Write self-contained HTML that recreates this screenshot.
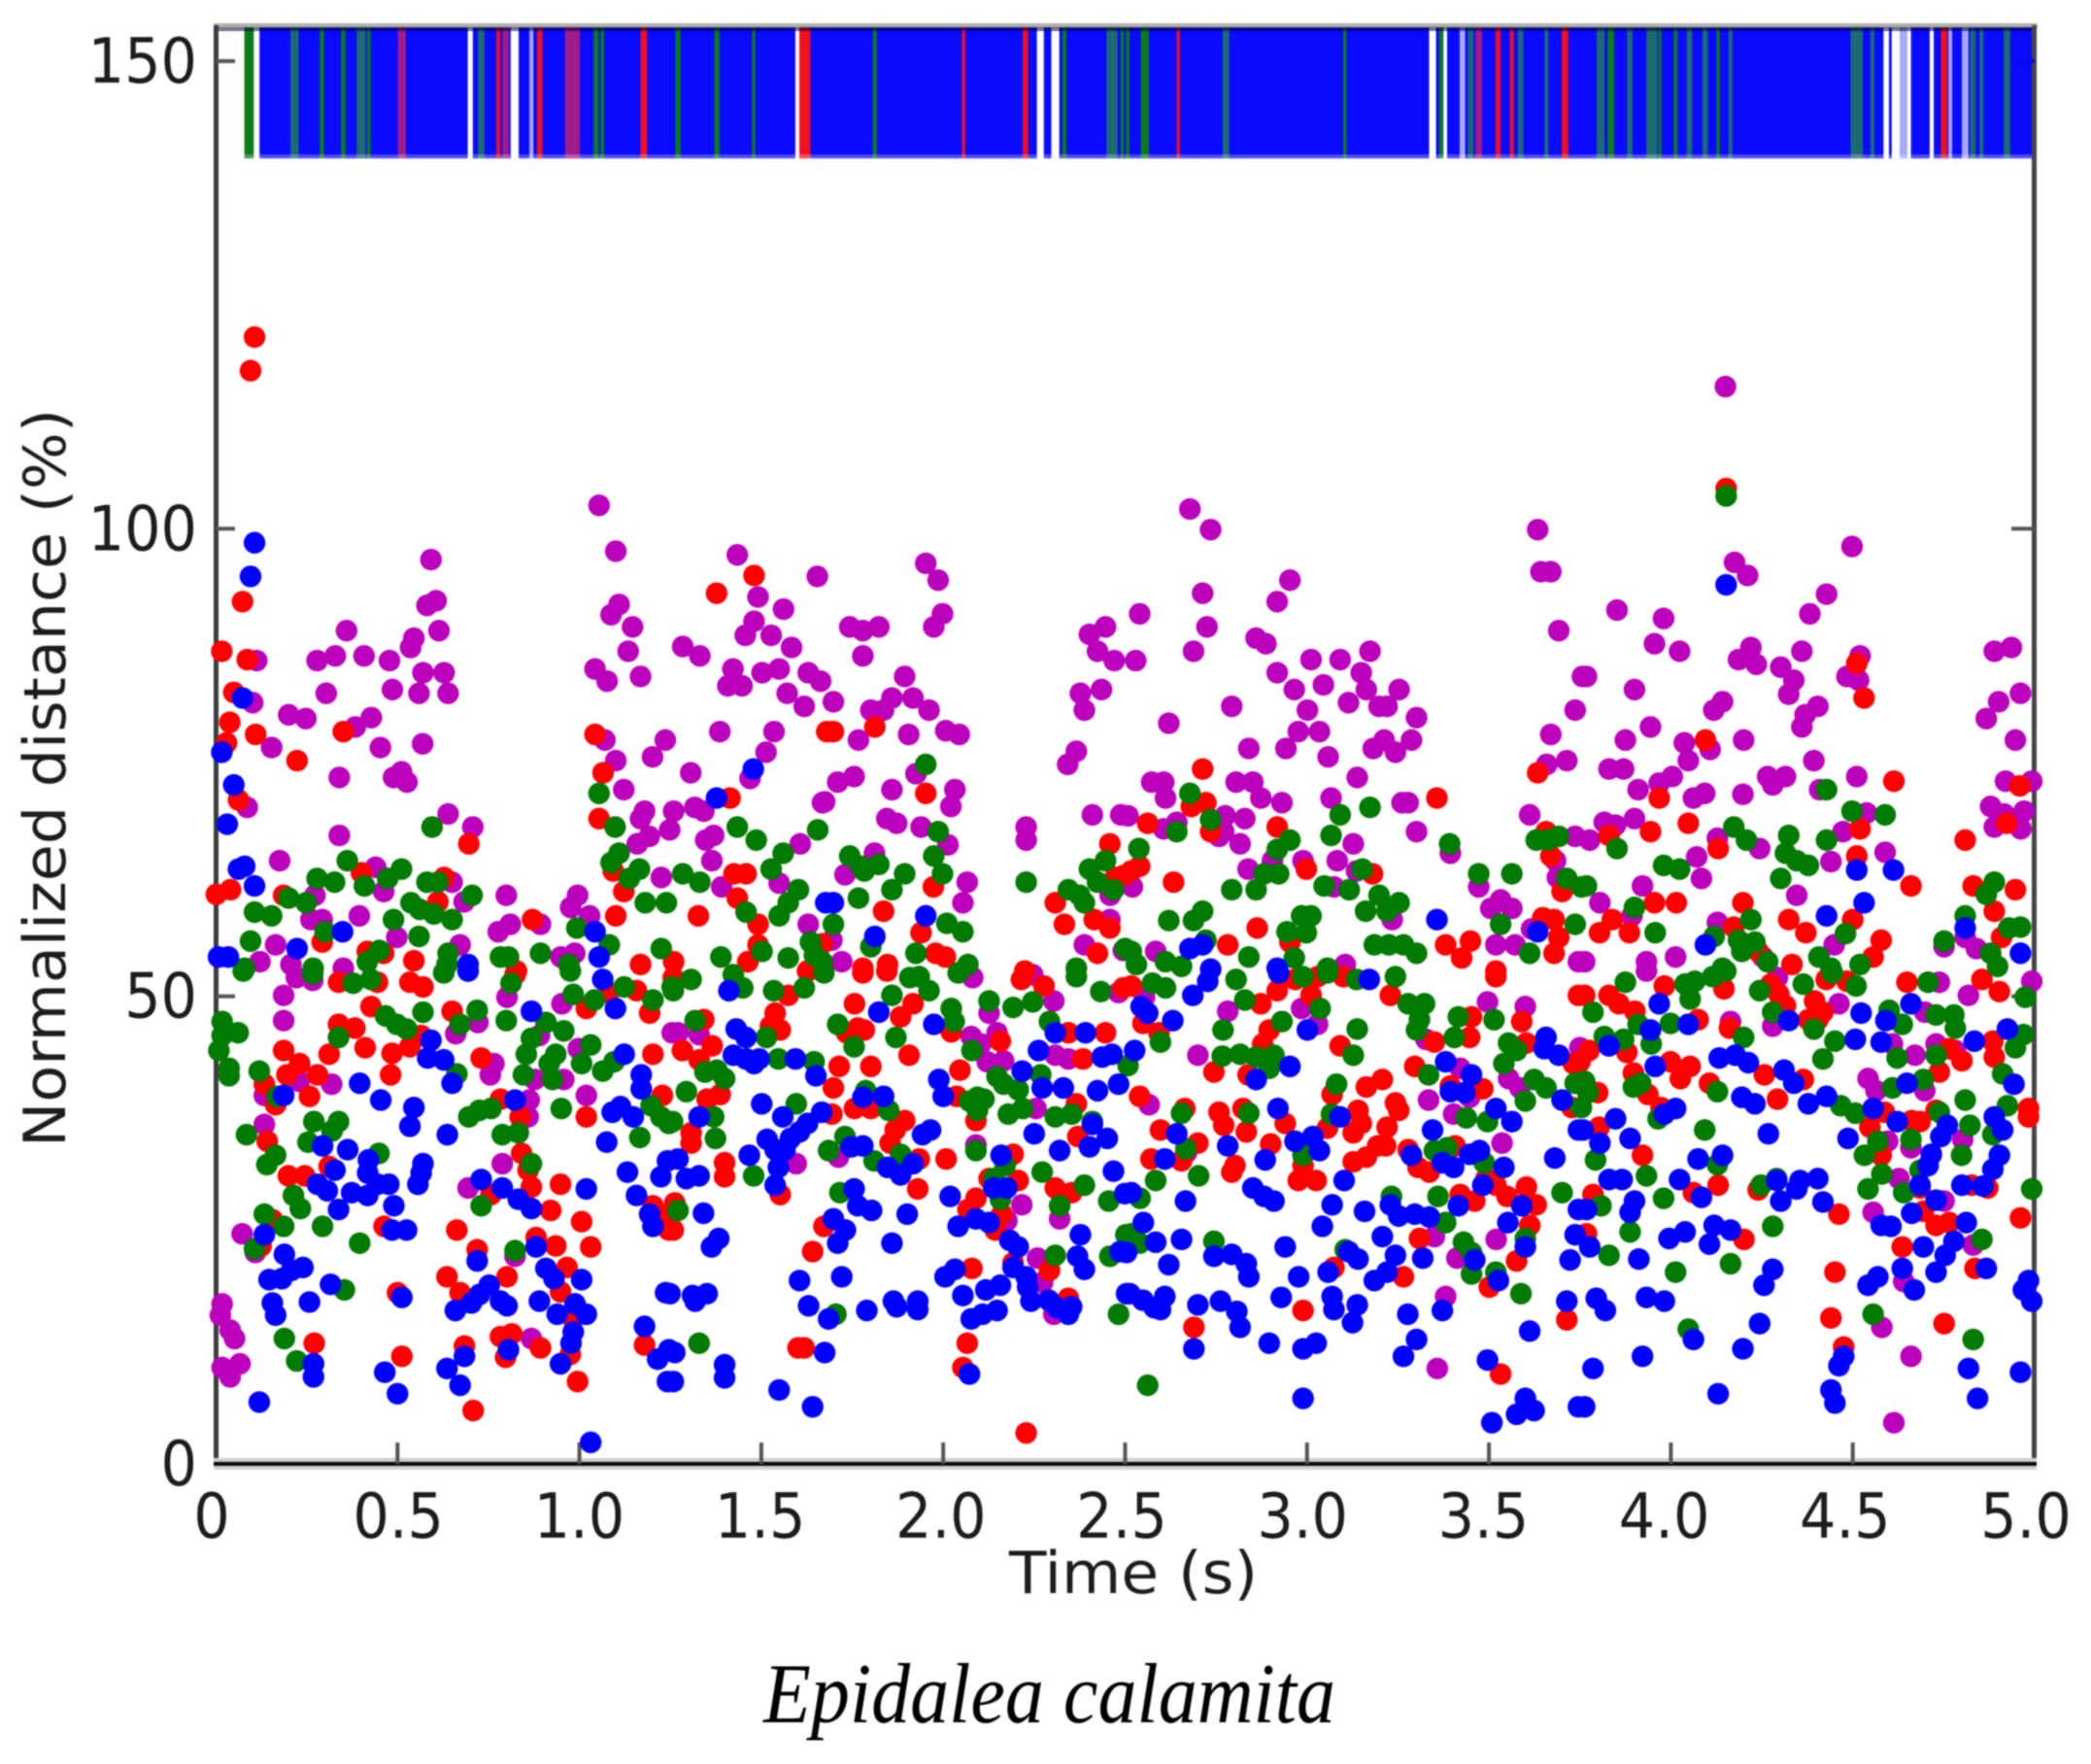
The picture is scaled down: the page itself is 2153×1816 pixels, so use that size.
<!DOCTYPE html>
<html lang="en">
<head>
<meta charset="utf-8">
<title>Epidalea calamita normalized distance over time</title>
<style>
html,body{margin:0;padding:0;background:#fff;}
#chart{display:block;width:2153px;height:1816px;filter:blur(0.8px);}
</style>
</head>
<body>
<svg id="chart" xmlns="http://www.w3.org/2000/svg" width="2153" height="1816" viewBox="0 0 2153 1816">
<rect x="0" y="0" width="2153" height="1816" fill="#fff"/>
<g id="strip"></g>
<g id="axes"></g>
<g id="points"></g>
<text x="1039" y="1640" font-family="'DejaVu Sans',sans-serif" font-size="60" fill="#1c1c1c" textLength="256" lengthAdjust="spacingAndGlyphs">Time (s)</text>
<text transform="translate(67,1181) rotate(-90)" x="0" y="0" font-family="'DejaVu Sans',sans-serif" font-size="60" fill="#1c1c1c" textLength="760" lengthAdjust="spacingAndGlyphs">Normalized distance (%)</text>
<text x="786" y="1773" font-family="'Liberation Serif',serif" font-style="italic" font-size="88" fill="#000" textLength="589" lengthAdjust="spacingAndGlyphs">Epidalea calamita</text>
</svg>
<script>
const xTicks = [0, 0.5, 1, 1.5, 2, 2.5, 3, 3.5, 4, 4.5, 5];
const xTickLabels = ['0', '0.5', '1.0', '1.5', '2.0', '2.5', '3.0', '3.5', '4.0', '4.5', '5.0'];
const yTicks = [0, 50, 100, 150];
const yTickLabels = ['0', '50', '100', '150'];

const stripGreen = [[.092,.026],[.292,.012],[.351,.012],[.421,.010],[1.046,.014],[1.063,.010],[1.271,.014],[1.378,.014],[1.479,.009],[1.812,.011],[2.333,.011],[2.492,.009],[2.507,.009],[2.554,.022],[3.104,.009],[3.369,.011],[3.835,.018],[3.970,.008],[4.013,.011],[4.130,.009]];
const stripTeal = [[.217,.022],[.400,.024],[.730,.018],[2.464,.030],[2.777,.018],[3.450,.015],[3.587,.015],[3.658,.011],[3.807,.022],[3.887,.015],[3.948,.030],[4.051,.015],[4.094,.015],[4.164,.011],[4.511,.034],[4.554,.011],[4.830,.015],[4.854,.011],[4.924,.018]];
const stripRed = [[.777,.011],[.891,.015],[1.177,.018],[1.618,.034],[2.056,.009],[2.226,.015],[2.646,.009],[3.525,.014],[3.563,.011],[3.709,.018],[4.751,.018]];
const stripPurple = [[.512,.022],[.797,.018],[.981,.041],[3.472,.018]];
const stripLight = [[.868,.011],[3.427,.015],[4.642,.030],[4.768,.010],[4.809,.018]];
const stripWhite = [[.113,.015],[.700,.014],[.822,.022],[1.599,.011],[2.267,.019],[2.308,.022],[3.345,.019],[3.380,.010],[4.592,.015],[4.618,.022],[4.655,.010],[4.717,.011]];

const purplePoints = [
[.222,52],[.267,51.7],[.187,50.1],[.187,47.4],[.801,49.9],[.952,49.2],[.721,47.2],[.660,46],[1.255,46.1],[.997,44.4],[.890,45.8],[.765,42.8],[.755,41.6],[.877,41.1],[.957,41.1],[.230,40.9],[.319,40.6],[.134,39.4],[1.019,39.4],[.862,38.9],[.859,37.1],[.134,36.3],[.788,32.1],[.694,29.5],[.073,24.6],[.109,22.6],[.823,22.2],[.018,17.1],[.013,15.9],[.040,14.3],[.052,13.4],[.067,10.7],[.018,10.3],[.040,9.3],[.868,13.4],
[1.054,102.5],[1.100,97.6],[1.434,97.2],[1.654,94.9],[.592,96.7],[.606,92.3],[.581,91.8],[1.109,91.9],[1.087,90.8],[1.491,92.7],[1.561,91.4],[.360,89.1],[.614,89.1],[1.146,89.5],[1.480,90.1],[1.456,88.6],[1.527,88.6],[.545,88.3],[.536,87.3],[1.583,87.3],[1.284,87.4],[1.331,86.4],[1.134,86.9],[.113,85.9],[.279,85.9],[.329,86.4],[.408,86.4],[.478,85.9],[.570,84.6],[.628,84.6],[1.043,85],[1.076,83.7],[1.168,84.2],[1.422,85],[1.408,83.2],[1.447,83.2],[1.502,84.6],[1.549,85],[1.629,84.6],[1.663,83.7],[.304,82.4],[.486,82.8],[.559,82.4],[.639,82.4],[.102,81.4],[1.571,82.4],[1.618,81],[.201,80.1],[.248,79.7],[.428,79.8],[.384,78.8],[1.386,78.3],[1.535,78.3],[1.236,77.4],[1.070,77.4],[.154,76.6],[.453,76.6],[.569,77],[1.513,76.1],[1.201,75.6],[1.100,75.2],[.340,73.4],[.489,73.4],[.511,74],[.526,72.9],[1.306,73.9],[1.469,73.3],[1.122,72.1],[.087,70.2],[1.179,69.8],[1.259,69.8],[1.317,70.2],[1.342,69.8],[.639,69.5],[1.668,70.7],[.707,68.1],[.340,67.2],[1.168,69],[1.192,67.1],[1.159,66.3],[1.248,67.8],[1.369,67.2],[1.347,66.7],[1.607,66.3],[1.364,64.5],[.176,64.5],[.440,63.8],[.650,62.2],[1.225,62.7],[1.549,62.1],[1.391,61.7],[.273,60.8],[.462,61.2],[.683,60.1],[.799,60.8],[.995,60.8],[.976,59.5],[1.028,58.6],[.395,58.6],[.262,58.2],[.293,58.2],[.810,57.7],[.777,56.9],[.893,57.7],[1.629,57.7],[.165,55.5],[.498,56.3],[.672,55.5],[.949,54.2],[.987,54.6],[.122,53.7],[.207,53.4],[.351,53],
[1.952,96.3],[1.986,94.5],[1.998,90.9],[1.974,89.5],[1.743,89.5],[1.779,89.1],[1.823,89.5],[1.779,86.4],[2.446,89.5],[2.402,88.7],[2.424,86.9],[2.470,85.9],[1.894,84.2],[1.859,81.9],[1.917,81.9],[1.961,80.6],[1.801,80.6],[1.836,80.6],[1.698,81.5],[2.435,82.8],[2.377,82.4],[2.388,80.6],[1.905,78],[2.007,78.4],[2.044,78],[1.767,77.4],[2.366,76.2],[2.342,74.8],[1.925,73.8],[1.755,73.5],[1.710,72.9],[1.859,72.1],[2.032,72.1],[2.021,70.3],[1.674,70.8],[1.845,69],[1.872,68.5],[1.939,68.1],[2.410,69.4],[2.488,69.4],[2.228,68.1],[2.228,66.7],[2.013,66.2],[1.811,65.3],[1.730,63],[2.066,62.2],[2.054,60],[2.458,58.2],[2.459,60.8],[2.388,55.5],[2.495,54.9],[1.721,53.7],[1.694,56],
[2.246,52.3],[2.081,52],[2.304,49.5],[2.126,48.2],[2.482,50.4],[1.271,46.1],[1.329,45.9],[2.077,45.7],[2.103,44.9],[2.148,46.1],[2.308,43.7],[2.344,43.3],[2.121,43],[2.166,43.1],[2.255,38],[2.090,34.1],[1.596,32.1],[2.216,27.7],[2.320,26.2],[2.175,26],[2.259,22],[2.273,19.4],[2.304,16],[1.712,32.8],
[2.678,102.1],[2.735,99.9],[2.953,94.5],[2.713,93.1],[2.918,92.2],[2.540,90.9],[2.725,89.5],[2.860,88.3],[2.887,87.7],[2.688,86.9],[2.529,85.9],[3.011,86],[3.091,86],[3.173,86.9],[2.918,84.6],[3.149,84.6],[2.965,82.8],[3.045,83.3],[3.163,82.8],[3.253,82.8],[2.793,81],[3.001,80.6],[3.114,81.4],[3.198,81],[3.220,81],[3.301,79.8],[2.620,79.2],[2.976,78.3],[3.034,78.3],[3.212,77.4],[3.287,77.4],[3.182,76.5],[3.243,76.1],[2.840,76.5],[2.942,76.5],[3.058,75.6],[3.138,73.4],[2.573,72.9],[2.606,72.9],[2.611,71.2],[2.805,72.9],[2.851,72.9],[2.873,71.2],[2.931,70.7],[3.066,71.2],[3.261,70.7],[3.278,70.7],[3.301,67.6],[2.508,69.3],[2.775,69.3],[2.829,69],[2.606,67.9],[2.642,68.6],[2.771,67.6],[2.758,67.1],[2.816,66.3],[3.127,66.3],[3.394,65.3],[2.989,64.5],[3.083,64.5],[2.905,64.5],[2.838,63.6],[2.520,61.7],[3.074,61.7],[3.136,63.4],[3.472,61.7],[3.532,60.3],[3.505,59.4],[3.563,59.4],[3.634,99.9],[3.643,95.4],[3.670,95.4],[3.692,89.1],[3.757,84.2],[3.737,80.6],[3.670,78],[3.714,75.2],[3.659,74.8],[3.612,69.4],[3.737,67.1],[3.683,64.5],[3.688,62.7],[3.234,58.2],[3.519,55.5],[3.572,55.5],[3.617,57.2],[2.584,54.8],[3.105,53.4],[3.746,53.7],
[2.553,49.9],[2.782,48.4],[2.985,48.7],[3.029,47],[3.496,49.4],[3.600,48.9],[2.700,43.7],[3.421,42.3],[3.554,41.2],[3.585,40.2],[2.566,38.4],[3.334,38.9],[3.403,37.4],[3.447,39.2],[3.350,24.3],[3.520,24],[3.412,22],[3.381,17.9],[3.358,10.2],[3.536,34.3],[3.750,44.5],[3.327,45.4],[2.669,33.3],
[4.498,98.1],[4.175,96.4],[4.211,95],[4.428,93],[4.382,90.9],[3.852,91.3],[3.980,90.4],[3.955,87.7],[4.024,86.9],[4.220,87.3],[4.186,86],[4.235,85.5],[4.302,85.2],[4.338,83.8],[4.324,82.3],[4.360,86.9],[4.520,86.4],[4.484,84.2],[4.516,83.8],[3.768,84.2],[3.900,82.8],[4.142,81.5],[4.118,80.6],[4.404,81],[4.369,80.1],[4.360,78.8],[3.944,78.8],[3.875,77.4],[4.037,77.1],[4.108,76.4],[4.200,77.4],[4.048,75.2],[4.393,75.2],[3.830,74.3],[3.870,74.3],[4.004,73.5],[3.968,72.8],[3.910,72.1],[4.511,73.5],[4.266,73.5],[4.315,73.5],[4.280,72.6],[4.409,72.1],[4.093,71.7],[4.062,71.2],[4.198,71.6],[4.889,86.9],[4.936,87.3],[4.961,82.4],[4.901,81.5],[4.867,79.7],[4.947,77.4],[4.920,73],[4.992,73],[4.879,70.3],[4.916,69.5],[4.971,69.8],[4.889,68.1],[4.962,67.9],[3.817,68.6],[3.900,69],[3.777,66.7],[3.848,68.3],[4.538,69.6],[4.473,67.6],[4.128,66.9],[4.244,65.8],[4.071,64.9],[4.440,64.4],[4.589,65.4],[4.084,62.6],[3.922,61.8],[4.346,60.8],[3.805,60],[3.893,58.6],[4.128,57.9],[4.449,55.5],[4.751,55.3],[4.840,55.1],[3.933,53.7],[4.013,54.2],[4.253,54.2],[3.763,53.7],[4.809,56.3],[4.15,115.2],
[4.293,52],[4.818,50.1],[4.738,51.5],[4.992,51.6],[4.462,49.2],[4.698,48.3],[4.164,47.3],[4.280,46.8],[4.671,43.7],[4.609,44.9],[4.729,44.9],[4.782,44.2],[4.542,41.2],[4.564,39.9],[4.698,39.9],[4.751,28.1],[4.596,34.5],[4.660,33.8],[4.802,34.7],[4.627,30.5],[4.556,26.9],[4.831,23.4],[4.640,19.5],[4.580,14.6],[4.660,11.5],[4.613,4.4],[3.933,52.7]
];

const redPoints = [
[.107,120.5],[.096,116.9],
[.338,51.5],[.445,51.5],[.534,51.5],[.570,51],[.823,52.3],[.427,48.9],[.650,48.4],[.338,47],[.383,46.6],[.411,44.5],[.312,43.8],[.187,44.2],[.231,42.8],[.196,41.6],[.134,40.6],[.280,41.6],[.258,39.3],[.165,38.4],[.485,43.9],[.534,44.6],[.565,45.8],[.481,41.6],[.730,43.4],[1.202,43.8],[1.157,50.6],[1.081,50.4],[1.193,48.2],[1.019,48.7],[1.228,39.4],[1.019,37.1],[.837,37.1],[.783,39],[.142,34.5],[.841,33.2],[.859,31.4],[.868,29.6],[.948,29.9],[.921,27.1],[.312,31.8],[.200,30.8],[.245,30.8],[.757,28.8],[1.006,25.9],[.663,25],[.463,25.4],[.156,26.1],[.125,23.3],[.881,24.2],[.935,23.3],[1.031,23.2],[.719,22.9],[.966,21],[.636,20],[.801,20],[.672,18.3],[.948,18.4],[.500,18.3],[1.246,26.7],[1.246,25],[1.202,27.6],[.271,12.9],[1.179,12.7],[.512,11.5],[.684,12.6],[.783,13.6],[.814,13.9],[.797,11.4],[.893,12.4],[.975,11.7],[.995,8.8],[.708,5.7],[.983,15.5],
[.074,92.2],[.017,86.9],[.087,86],[.050,82.5],[.039,79.3],[.110,78],[.030,77.1],[.224,75.2],[.351,78.3],[.063,71],[.002,60.9],[.041,61.4],[.187,60.8],[.401,63.2],[.628,62.7],[.696,66.3],[.611,60.1],[.293,55.8],[.417,54.8],[.462,54.6],[.545,53.8],[.871,58.2],[1.100,58.6],[1.168,53.4],[1.259,53.7],[1.327,58.6],[1.480,95],[1.377,93.1],[1.043,78],[1.065,73.9],[1.414,71.2],[1.054,69],[1.093,63.4],[1.122,61.2],[1.425,63.1],[1.458,63.1],[1.434,60.5],[1.491,57.7],[1.491,55.5],[1.463,53.7],[.827,52.7],[1.680,78.3],
[1.698,78.3],[1.812,78.8],[1.952,71.7],[1.973,61.7],[1.836,59.1],[2.458,66.3],[2.308,60],[2.333,57.7],[2.415,58.2],[2.458,57.3],[2.473,62.7],[2.495,62.9],[1.939,56.8],[2.424,54.6],[1.979,54.6],[2.006,54.2],[1.779,53],[1.847,53.4],[1.667,55.6],[2.224,52.7],
[1.258,52],[1.574,50.1],[1.538,48.2],[1.552,46.4],[1.525,46.8],[1.627,52.7],[1.779,52.5],[1.845,52.7],[1.756,49.2],[1.917,49.2],[1.883,47.8],[1.342,47.5],[1.365,44.7],[1.283,44.2],[1.329,43.2],[1.765,46.6],[1.783,46.4],[1.734,46.1],[1.906,43.7],[2.215,51.8],[2.277,51.1],[2.495,50.9],[2.022,46.2],[2.157,45.2],[2.046,42.1],[2.344,46.1],[2.446,46.1],[2.384,43.3],[1.714,42.5],[1.801,42.5],[1.698,40.2],[1.351,39],[1.387,39.5],[1.694,37.4],[1.756,38],[1.801,38],[2.037,39.3],[2.366,38.5],[2.090,36.7],[1.894,36.7],[1.868,35.7],[1.854,34.3],[1.307,35.4],[1.307,34.3],[2.370,35],[1.934,32.6],[2.008,32.6],[2.192,33.1],[1.399,32.2],[1.399,30.7],[1.262,27.9],[1.258,25],[2.206,30.3],[2.126,30.5],[1.930,29.4],[1.552,28.8],[2.090,28.4],[2.161,26.7],[2.068,27.2],[2.308,29.5],[2.353,29],[1.672,25.4],[2.143,25],[1.641,22.7],[2.079,20.9],[2.192,21.5],[2.292,20.7],[2.344,17.7],[1.618,12.4],[1.601,12.4],[2.066,12.9],[2.054,10.3],[2.228,3.3],
[2.713,74.3],[3.357,71.2],[2.562,68.5],[2.682,70.3],[2.722,70.7],[2.735,67.6],[2.918,68.1],[2.540,63.9],[2.517,63.4],[2.633,62.2],[2.998,63.6],[3.180,63.1],[3.634,73.9],[3.670,65],[3.701,61.2],[3.657,67.6],[3.648,58.4],[3.679,58.2],[3.692,56.3],[3.679,54.6],[2.863,57.3],[2.782,55.5],[2.953,55.8],[3.381,55.5],[3.449,55.9],[3.425,54.1],[3.519,52.7],
[2.517,51.1],[2.918,50.6],[3.011,50.1],[2.873,49.2],[2.967,51.8],[3.029,52.1],[3.100,52.1],[3.229,50.1],[3.519,52.1],[3.746,50.1],[3.452,47.8],[3.590,47.3],[2.549,47.1],[2.593,46.1],[2.896,46.4],[2.878,44.9],[3.447,45.6],[3.350,45.1],[3.603,45],[3.091,44.7],[3.296,42.5],[2.744,41.9],[2.838,41.6],[3.483,40.1],[3.394,40.4],[3.207,41.1],[3.163,40.3],[3.069,39.5],[2.540,39.3],[3.243,38.6],[3.252,37.8],[3.140,37.8],[2.664,38],[2.758,37.6],[2.824,38],[2.771,36.2],[2.597,35.7],[2.833,35.5],[2.940,36.4],[3.056,35.9],[3.149,36.4],[3.127,35.4],[3.220,36],[2.700,34.3],[2.900,34.2],[3.194,34],[3.216,34],[3.278,33.6],[2.571,32.6],[2.655,32.4],[3.163,32.8],[3.127,32.3],[3.407,34],[2.802,31.9],[2.793,31.2],[2.989,31.9],[2.976,30.3],[3.025,30.3],[3.305,31.7],[3.336,31.2],[3.492,30.5],[3.519,29.8],[3.550,28.6],[3.603,29.6],[3.630,27.7],[3.461,28.1],[3.421,28.8],[3.612,25.5],[3.309,24.1],[3.074,21],[3.576,21.7],[3.265,20],[3.501,18.9],[2.989,16.4],[2.689,14.6],[3.714,15.4],[3.532,9.6],[3.750,43],[3.732,42.8],[3.728,38.1],
[4.152,104.3],[4.511,85.6],[4.531,81.9],[4.095,77.4],[4.613,73],[4.959,72.5],[3.968,71.2],[4.923,68.5],[4.048,68.5],[3.830,67.2],[3.944,67.6],[4.809,66.7],[4.130,65.8],[4.520,67.9],[4.511,65],[4.660,61.8],[4.831,61.8],[4.947,61.4],[4.198,60],[3.955,60],[4.015,60],[3.839,58.2],[3.804,56.8],[3.886,56.8],[4.889,59.1],[4.324,58.2],[4.371,56.8],[4.500,58.2],[4.173,57.4],[4.578,56],[4.909,56.3],[4.556,54.2],[4.333,53.4],[4.240,54.8],
[3.982,51.1],[3.830,50.1],[3.857,49.2],[3.901,48.4],[3.763,50.1],[4.146,50.8],[4.075,47.5],[4.161,46.6],[4.275,51.3],[4.297,50.2],[4.315,49],[4.427,51.8],[4.395,49.5],[4.418,48.3],[4.404,47.5],[4.378,47.5],[4.484,51.6],[4.649,51.5],[4.855,51.8],[4.903,50.5],[3.775,44.2],[3.879,44],[3.999,43],[4.053,42.5],[4.026,41.2],[3.897,41.8],[3.937,39.5],[4.106,40.7],[3.799,39.7],[4.257,41.6],[4.364,41.1],[4.293,39],[4.587,37.6],[4.685,36.6],[4.765,44.4],[4.800,43.1],[4.738,41.9],[4.885,45.2],[4.889,43.5],[4.983,38],[4.983,37.1],[3.973,38.1],[4.547,36],[4.662,36.7],[4.729,37.8],[3.803,36],[3.922,33],[4.578,33],[4.062,29],[4.130,29.8],[4.240,29.3],[4.462,26.7],[4.729,25.5],[4.765,25.8],[3.786,28.8],[4.961,26.3],[4.827,29.8],[4.871,29.5],[4.201,24],[3.768,24.6],[4.636,23.2],[4.836,20.9],[4.451,20.5],[4.440,15.6],[4.751,15],[4.475,12.5],[4.694,27],[4.685,29.5]
];

const greenPoints = [
[.076,52.7],[.267,52.4],[.378,51.4],[.427,51.8],[.627,52.5],[.975,52.7],[.812,51.4],[.983,50.2],[1.041,49.6],[1.123,51],[1.202,49.6],[1.255,51],[.570,48.3],[.467,47.9],[.498,47],[.525,46.5],[.719,48.5],[.672,47],[.799,47.4],[.018,47.3],[.018,45.8],[.062,46.1],[.009,44.2],[.338,45.6],[.908,47.2],[.957,46.3],[.868,45.5],[.854,43.8],[.935,43.8],[1.031,44.8],[1.006,42.8],[.917,42.8],[.926,41.1],[.846,41.6],[1.064,42],[1.095,43],[.037,42.3],[.037,41.5],[.120,42],[.663,41.7],[.169,39.3],[.950,38],[1.197,38.3],[1.224,37.1],[1.246,36.4],[1.166,34.9],[.757,38],[.725,37.8],[.696,37.1],[.788,35.2],[.832,35.4],[.085,35.2],[.270,36.6],[.338,36.6],[.320,35.6],[.254,34.4],[.449,33.2],[.165,33],[.141,32],[.868,32.1],[.214,28.7],[.233,27.3],[.134,26.7],[.187,25.4],[.294,25.4],[.396,23.6],[.107,23],[.823,22.8],[.730,27.6],[.354,18.6],[.189,13.4],[.223,11],
[.595,68.1],[.362,64.5],[.279,62.6],[.327,62.2],[.409,61.8],[.473,62.6],[.511,63.6],[.581,62.2],[.611,62.2],[.705,60.8],[.201,60.5],[.249,60],[.107,59],[.154,58.6],[.537,60],[.561,59.3],[.600,58.8],[.650,58.2],[.489,58.2],[.301,56.9],[.096,55.9],[.559,56.4],[.993,57.3],[1.082,55.5],[.450,54.9],[.417,53.7],[.639,54.6],[.636,53.4],[.783,54.2],[.805,54.2],[.893,54.6],[.971,53.4],[1.225,55.1],[1.054,71.7],[1.098,68.1],[1.109,65.3],[1.087,64.3],[1.165,63.6],[1.137,62.6],[1.284,63.1],[1.331,62.2],[1.181,60],[1.239,60],[1.434,68.1],[1.486,66.7],[1.560,65.3],[1.527,63.6],[1.458,59],[1.549,58.6],[1.574,60],[1.602,61.4],[1.655,67.8],[1.389,54.2],[1.502,54.8],[1.574,54.1],[1.635,55.8],[1.646,54.4],[.268,53],[.080,53],
[1.986,67.6],[1.952,74.8],[1.974,65],[1.998,63.1],[1.894,63.1],[1.859,61.4],[1.743,65],[1.774,63.9],[1.823,64.1],[1.783,63.4],[1.767,60.5],[1.698,57.7],[1.801,55.3],[2.010,57.8],[2.054,56.9],[1.925,54.6],[2.228,62.2],[2.446,64.5],[2.402,63.6],[2.424,62.2],[2.468,61.4],[2.344,61.4],[2.375,60.8],[2.388,60],[2.068,53.4],[2.366,53],[2.500,55.1],[1.667,53.7],
[1.258,50.6],[1.307,51.8],[1.449,50.9],[1.423,52.3],[1.534,50.6],[1.618,50.9],[1.672,52.5],[1.908,52],[1.934,52.1],[1.961,50.6],[1.859,50.1],[2.041,52.5],[2.126,49.5],[2.192,48.8],[2.246,49.4],[2.366,52.1],[2.433,50.5],[2.022,48.7],[2.030,47.3],[1.318,47.4],[1.514,45.6],[1.710,47],[1.870,45.6],[1.755,44.6],[2.079,44.2],[2.292,47.3],[1.547,43.3],[1.645,43],[1.345,41.9],[1.399,41.2],[1.378,42.1],[1.294,39.8],[1.596,38.5],[1.787,39.9],[1.850,37.8],[2.268,41.6],[2.148,41.4],[2.166,40.6],[2.206,40],[2.094,39.2],[2.072,38.8],[2.112,39],[2.094,37.8],[2.179,37.4],[2.219,38],[2.308,37.1],[2.353,37.4],[1.256,36.6],[1.369,37.1],[1.374,34.8],[2.410,36.6],[1.730,35],[1.685,33.5],[1.810,32.4],[1.883,33.1],[2.090,33.5],[1.479,30.8],[2.170,31.9],[2.272,31.2],[2.388,29.8],[2.139,30.5],[1.716,29],[1.271,27.1],[2.157,28.3],[2.320,27.6],[2.455,28.1],[2.502,24.5],[2.308,22.3],[2.458,22.2],[1.705,16],[2.482,16],[1.329,12.9],
[2.678,71.7],[2.735,68.9],[2.642,67.6],[2.538,65.8],[3.173,70.2],[3.091,69.4],[3.066,67.2],[2.953,66.7],[2.918,65.7],[3.392,66.3],[3.630,66.7],[3.661,66.7],[3.692,67.1],[3.472,63.1],[3.563,63.1],[3.152,63.6],[2.882,63.1],[2.922,63.1],[2.793,61.4],[2.860,61.4],[3.047,61.8],[3.116,61.4],[3.714,62.6],[3.754,61.7],[3.198,60.8],[3.253,60],[2.620,58.1],[2.713,59.1],[2.688,58.1],[3.161,59.1],[3.220,59.1],[2.985,58.6],[3.011,58.6],[2.945,56.9],[2.998,56.8],[3.532,57.7],[3.737,57.7],[2.517,54.8],[3.185,55.5],[3.225,55.5],[3.265,55.5],[3.301,54.6],[2.840,54.2],[3.612,54.6],[2.965,54.1],[2.611,53.7],[2.722,56],[2.531,53.4],[2.655,53.2],[3.056,53],
[2.575,51.4],[2.611,50.9],[2.805,51.8],[2.989,52.1],[3.056,52.5],[3.136,51.8],[3.243,52.1],[2.829,49.6],[3.036,48.7],[2.931,47.3],[2.769,46.4],[3.138,46.5],[3.278,49.2],[3.323,49.2],[3.309,47.5],[3.301,46.4],[3.416,47.8],[3.514,47.5],[3.405,45.6],[3.554,45],[3.576,44.2],[2.597,45.1],[3.127,43.7],[2.767,43.6],[2.816,43.8],[2.860,43.5],[2.909,43.7],[2.896,42.3],[2.508,42.6],[3.541,42.8],[3.334,41.6],[3.624,41.1],[3.657,40.2],[3.737,40.7],[3.600,38.8],[3.754,38.1],[3.081,40.6],[3.067,37.4],[2.655,37.5],[2.840,37.5],[3.438,37],[3.496,36.6],[2.667,33.7],[2.702,30.8],[2.584,30.3],[3.350,33.5],[3.385,33.8],[3.487,32.2],[2.541,28.4],[3.232,28.6],[3.360,28.6],[3.381,25.8],[2.517,24.6],[2.540,23.6],[2.744,23.8],[3.430,23.7],[3.452,22.6],[3.600,24.1],[3.105,22.9],[3.452,20.3],[3.519,20.5],[3.588,18.2],[3.701,29],[2.562,8.4],[2.989,33],
[4.152,103.5],[4.428,72.1],[4.498,69.8],[4.589,69.4],[3.852,65.8],[4.173,68.1],[4.208,66.7],[4.324,67.2],[4.428,66.7],[4.315,65.3],[4.346,64.5],[4.378,64],[3.980,64],[4.024,63.6],[4.302,62.6],[4.889,62.2],[4.867,60.9],[3.768,61.8],[3.900,59.5],[4.809,58.6],[4.220,58.2],[3.957,56.8],[4.929,57.3],[4.961,57.4],[4.119,56.4],[4.186,56],[4.231,55.8],[4.480,56.7],[4.751,55.9],[4.195,54.8],[4.266,53.7],[4.407,54.2],[4.520,53.4],[4.879,54.6],[4.898,53.2],[4.440,53],[4.142,53],
[3.875,51.5],[4.039,51.3],[4.066,51.6],[4.053,49.7],[4.115,52.1],[4.151,52.7],[4.244,50.6],[4.364,51.3],[4.444,52.5],[4.509,51.1],[4.707,51.5],[4.974,49.9],[3.786,48.3],[3.910,47],[3.999,47.1],[4.280,48.3],[4.393,46.5],[4.636,47],[4.600,48.5],[4.729,48],[4.778,48],[4.782,46.6],[3.817,45.7],[3.870,45.4],[3.946,44.9],[4.200,45.6],[4.451,45.2],[4.418,43.3],[4.622,43.4],[4.729,43.7],[4.947,44.5],[4.969,45.9],[4.912,41.7],[4.694,41.1],[4.609,40.2],[3.917,40.7],[3.897,40.3],[4.128,39.8],[3.763,40.9],[3.772,39.7],[4.809,38.9],[4.467,38.3],[4.507,37.5],[4.738,37.6],[4.925,38.3],[3.965,36.9],[4.093,35.7],[4.822,36.2],[4.885,35.2],[4.569,34.5],[4.660,34.7],[4.532,33],[4.799,33],[3.793,32.5],[3.933,30.8],[4.075,32.6],[4.128,32],[4.580,31],[4.542,29.4],[4.640,29],[4.291,30.5],[4.248,29.8],[4.992,29.4],[4.685,31.4],[3.808,27.6],[3.980,28.4],[3.888,24.8],[4.280,25.4],[4.855,24],[3.830,22.3],[4.164,21.4],[4.013,20.5],[4.048,14.4],[4.556,16],[4.831,13.3]
];

const bluePoints = [
[.694,52.7],[1.064,51.8],[1.099,48.7],[.868,48.4],[.592,45.3],[.583,43.4],[.627,43.2],[.650,40.7],[.396,40.7],[.187,39.4],[.454,38.9],[.823,38.9],[.545,38.1],[.534,36.1],[.637,35.2],[1.123,43.8],[1.170,41.6],[1.170,40.1],[1.090,37.6],[1.113,38.2],[1.148,37.1],[1.075,34.4],[.294,34],[.363,33.6],[.420,32.5],[.570,32.1],[1.242,32.4],[.328,31.4],[.418,31.1],[.565,31.1],[.556,29.9],[1.132,31.2],[1.224,30.7],[.280,29.9],[.307,29.2],[.374,29],[.418,28.7],[.445,29.9],[.476,29.9],[.338,27.2],[.490,27.6],[.730,30.4],[.788,29.5],[1.019,29.4],[.832,28.3],[.868,27.3],[1.157,28.7],[1.193,26.7],[1.202,25.4],[.485,25],[.525,25],[.134,24.5],[.881,23.2],[.189,22.4],[.719,21.7],[.240,21],[.209,20.7],[.147,19.7],[.182,19.8],[.908,20.9],[.930,19.8],[1.006,19.7],[.316,19.2],[.752,19.1],[.725,18.1],[1.237,18.3],[.156,17.2],[.258,17.3],[.512,17.8],[.890,17.4],[.988,17.1],[.783,17.4],[.165,15.9],[.659,16.4],[.703,17.2],[.801,16.9],[.939,16],[1.019,16],[1.179,14.7],[.983,14.1],[.977,12.9],[.805,12.2],[.684,11.5],[.948,10.7],[1.215,11.2],[1.246,12.2],[.269,10.7],[.269,9.3],[.465,9.8],[.636,10.2],[.672,8.4],[.500,7.5],[1.242,8.8],[.120,6.6],[1.031,2.3],
[.107,98.5],[.096,94.9],[.074,81.9],[.017,76.1],[.050,72.6],[.032,68.4],[.080,63.9],[.063,63.6],[.107,61.8],[.349,56.9],[.224,55.1],[.008,54.2],[.035,54.2],[1.043,56.9],[1.054,54.2],[.694,53.4],[1.377,71.2],[1.478,74.3],[1.677,60],[1.698,60],[1.952,58.6],[1.812,56.4],
[1.411,50.6],[1.823,48.3],[1.974,47],[1.431,46.5],[1.458,45.6],[2.308,46.1],[2.391,46.1],[1.423,43.7],[1.458,43.3],[1.480,42.8],[1.494,43.3],[1.594,43.3],[1.650,41.5],[2.262,44.2],[2.437,43.5],[2.464,43.8],[2.217,42],[1.988,41.1],[2,39.3],[2.272,40.2],[2.330,40.2],[2.424,39.9],[2.482,40.6],[1.779,39.2],[1.836,39.3],[1.501,38.5],[1.559,37.1],[1.666,37.6],[1.329,37.1],[1.627,36.4],[1.605,35.5],[1.943,35.2],[1.965,35.7],[2.250,35.3],[2.410,36.3],[1.516,34.7],[1.580,34.8],[1.538,33.6],[1.565,33.6],[1.467,33],[2.451,34.8],[2.402,33.9],[1.747,33.9],[1.779,34],[2.320,33.5],[2.159,33],[1.271,32.6],[1.547,31.7],[1.917,32.1],[1.847,31.7],[1.883,30.9],[2.468,31.3],[1.294,30.5],[1.329,30.8],[1.538,29.8],[2.139,29.5],[2.175,29.5],[1.755,29.4],[2.019,28.6],[2.499,28.9],[1.765,27.6],[1.803,27.1],[1.341,26.8],[1.901,26.7],[1.698,26.2],[2.090,26.2],[2.126,25.8],[2.041,25.4],[1.731,25],[1.383,24.1],[1.363,23.2],[1.710,23.6],[1.859,23.6],[2.183,23.9],[2.206,23.2],[2.377,24.5],[2.369,22.2],[2.388,20.8],[2.486,22.7],[2.032,20.8],[2.005,20],[1.721,20],[2.192,21],[2.228,20],[1.605,19.6],[2.232,18.9],[2.157,19.1],[2.117,18.6],[2.054,18],[1.351,18.2],[1.311,18],[1.318,17.4],[1.249,18.2],[2.504,18.2],[2.241,17.4],[2.290,17.5],[2.353,16.8],[2.313,16.7],[2.344,16],[1.863,17.4],[1.872,16.8],[1.930,17.4],[1.930,16.5],[1.790,16.4],[1.630,16.9],[1.685,15.5],[2.148,16.4],[2.108,16],[2.077,15.5],[1.674,11.9],[1.262,11.9],[1.399,10.6],[1.399,9.2],[2.072,9.6],[1.258,8.8],[1.549,7.9],[1.641,6.1],
[3.357,58.2],[3.634,56.9],[2.678,55.1],[2.713,55.5],[2.918,53],[2.735,52.9],
[2.727,51.6],[2.686,50.1],[2.922,52.5],[3.171,51.8],[2.544,48.9],[2.562,48.2],[2.631,47.4],[3.001,46.4],[3.657,45.6],[3.652,44.4],[3.692,43.7],[2.526,44.2],[2.953,42.5],[2.860,41.1],[3.381,43],[3.452,41.6],[3.394,39.8],[3.434,39.7],[3.701,38.9],[3.519,38],[2.920,38],[3.091,37.1],[3.345,35.7],[3.563,36.6],[3.746,35.7],[2.642,35.3],[2.967,34.5],[3.016,35],[3.034,33.5],[2.782,34],[2.609,32.6],[2.885,32.5],[3.287,33],[3.681,32.7],[3.372,32.2],[3.403,31.7],[3.447,33.1],[3.474,33.5],[3.541,31.7],[3.102,30.3],[3.483,29.8],[2.517,29],[2.666,28.1],[2.851,29.5],[2.882,28.6],[2.909,28.1],[3.069,27.7],[3.229,27.7],[3.158,27],[3.252,26.5],[3.296,26.7],[3.336,26.4],[3.416,27.6],[3.590,27.6],[3.746,27.2],[2.550,25.8],[3.552,25.8],[3.042,25.4],[2.584,23.7],[2.655,24],[3.737,24.5],[3.207,24.3],[2.940,23.2],[2.744,22.2],[2.793,22.4],[3.600,23.2],[3.114,22.7],[3.243,22.3],[3.318,22],[3.140,21.9],[2.833,21.4],[3.461,21.8],[3.723,21.8],[2.620,21.3],[2.504,22.6],[3.058,20.5],[2.977,20],[2.840,20],[3.220,20.5],[3.185,19.6],[3.526,19.6],[2.929,17.8],[3.069,17.9],[2.513,18.2],[2.549,17.5],[2.580,16.7],[2.609,17.9],[2.597,16.5],[2.700,17],[2.762,17.4],[2.807,16.3],[3.074,16.5],[3.138,17],[3.125,15.1],[2.816,14.6],[3.277,16],[3.372,16.4],[3.714,17.4],[3.612,14.2],[2.689,12.3],[2.896,12.9],[2.989,12.3],[3.025,12.9],[3.301,13.3],[3.265,11.5],[3.496,11.1],[2.989,7],[3.508,4.4],[3.576,5.3],[3.600,7],[3.624,5.7],[3.746,6.1],
[4.152,94],[4.511,63.5],[4.612,63.5],[4.531,60],[4.428,58.6],[4.809,57.3],[4.095,55.5],[4.961,54.6],
[3.968,49.2],[3.944,46.4],[4.048,47],[4.324,47.4],[4.523,48.2],[4.591,47.4],[4.660,49.2],[4.507,45.4],[4.578,45.1],[3.830,44.7],[4.834,45.2],[4.925,46.5],[4.133,43.4],[4.177,43.7],[4.213,42.9],[3.957,42.5],[4.311,42.1],[4.338,40.7],[4.649,40.7],[4.943,40.6],[4.195,39.2],[4.231,38.5],[4.378,38.5],[4.428,39.3],[4.556,38],[4.013,38],[3.982,37.4],[3.848,36.9],[4.622,36.6],[4.760,36.2],[4.742,35],[4.889,37.1],[4.912,35.7],[3.759,35.7],[3.888,34.8],[3.805,34.3],[4.268,35.3],[4.487,34.8],[4.716,33.1],[4.707,31.9],[4.903,33],[4.142,33],[4.075,32.6],[4.885,31.5],[3.830,30.4],[3.866,30.4],[4.024,30.4],[4.291,30.3],[4.355,30.3],[4.404,30.5],[4.346,29.4],[4.685,29.8],[4.800,29.8],[4.858,29.7],[3.900,28.1],[4.084,28.5],[4.302,28.1],[4.418,28],[4.729,28.2],[3.768,27.2],[3.888,26.9],[4.662,26.8],[4.812,25.8],[4.578,25.5],[4.605,25.4],[4.039,24.8],[3.995,24.1],[4.119,25.5],[4.164,25],[4.106,23.5],[4.778,23.8],[3.777,23.2],[4.694,23.2],[4.754,22.3],[3.912,21.9],[4.280,20.8],[4.867,20.9],[4.636,20.9],[4.729,20.5],[4.569,20],[4.542,19.1],[4.256,19.1],[4.669,18.6],[4.983,19.6],[4.969,18.6],[4.992,17.4],[3.795,17.7],[3.820,16.4],[3.933,17.8],[3.982,17.4],[4.244,15],[4.062,13.3],[4.198,12.3],[3.922,11.5],[4.475,11.5],[4.462,10.5],[3.786,10.2],[4.818,10.2],[4.961,9.8],[4.130,7.5],[4.440,7.9],[4.451,6.5],[4.843,7],[3.763,6.1]
];

const SVG_NS = 'http://www.w3.org/2000/svg';
const plotLeft = 222, plotRight = 2095, plotBottom = 1507, plotTop = 27;
const xScale = t => plotLeft + t * (plotRight - plotLeft) / 5;
const yScale = v => plotBottom - v * 9.627;
const labelCenterX = t => t === 0 ? 218 : 224 + 372.4 * t;
const stripTopValue = 153.6, stripBottomValue = 139.6, stripStartTime = 0.12;

function shape(parent, tag, attrs) {
  const el = document.createElementNS(SVG_NS, tag);
  for (const k in attrs) el.setAttribute(k, attrs[k]);
  parent.appendChild(el);
  return el;
}

const stripG = document.getElementById('strip');
const stripY = yScale(stripTopValue), stripH = yScale(stripBottomValue) - stripY;
const stripBase = shape(stripG, 'rect', {x: xScale(stripStartTime), y: stripY, width: plotRight - xScale(stripStartTime), height: stripH, fill: '#0a0aff'});


function drawStripBars(bars, color, label) {
  bars.forEach(bar => {
    const x0 = xScale(bar[0] - bar[1] / 2);
    const el = shape(stripG, 'rect', {x: x0, y: stripY, width: xScale(bar[0] + bar[1] / 2) - x0, height: stripH, fill: color});
    
    
  });
}
drawStripBars(stripTeal, '#1c6a72', 'strip-bar-teal');
drawStripBars(stripGreen, '#0c7c18', 'strip-bar-green');
drawStripBars(stripRed, '#ee1020', 'strip-bar-red');
drawStripBars(stripPurple, '#a01c88', 'strip-bar-purple');
drawStripBars(stripLight, '#a8a8ff', 'strip-bar-light');
drawStripBars(stripWhite, '#ffffff', 'strip-bar-gap');
shape(stripG, 'rect', {x: xScale(0.078), y: stripY + stripH - 4, width: plotRight - xScale(0.078), height: 4, fill: 'rgba(255,255,255,0.28)'});
shape(stripG, 'rect', {x: plotLeft, y: 28, width: plotRight - plotLeft, height: 4, fill: 'rgba(0,0,50,0.55)'});

const axesG = document.getElementById('axes');
const spineTop = shape(axesG, 'rect', {x: 220, y: 24, width: 1878, height: 4, fill: '#b0b0a8'});


const spineLeft = shape(axesG, 'rect', {x: 220, y: 26, width: 5, height: 1483, fill: '#3c3c3c'});


const spineRight = shape(axesG, 'rect', {x: 2092, y: 26, width: 5, height: 1483, fill: '#444'});


shape(axesG, 'rect', {x: 220, y: 1501, width: 1877, height: 12, fill: '#cfcfcf'});
const spineBottom = shape(axesG, 'rect', {x: 220, y: 1505, width: 1877, height: 4, fill: '#0a0a0a'});



xTicks.forEach((t, i) => {
  const x = xScale(t);
  if (i > 0 && i < xTicks.length - 1) {
    const tick = shape(axesG, 'rect', {x: x - 2, y: 1485, width: 4, height: 22, fill: '#555'});
    
    
  }
  const lab = shape(axesG, 'text', {transform: 'translate(' + labelCenterX(t) + ',1583) scale(0.92,1)', 'text-anchor': 'middle', 'font-family': "'DejaVu Sans',sans-serif", 'font-size': 64, fill: '#1c1c1c'});
  
  
  lab.textContent = xTickLabels[i];
});
yTicks.forEach((v, i) => {
  const y = yScale(v);
  if (i > 0) {
    const tickL = shape(axesG, 'rect', {x: 222, y: y - 2, width: 20, height: 4, fill: '#555'});
    
    
    const tickR = shape(axesG, 'rect', {x: 2071, y: y - 2, width: 24, height: 4, fill: v === 150 ? '#0808e8' : '#555'});
    
    
  }
  const lab = shape(axesG, 'text', {transform: 'translate(203,' + (y + 22) + ') scale(0.92,1)', 'text-anchor': 'end', 'font-family': "'DejaVu Sans',sans-serif", 'font-size': 64, fill: '#1c1c1c'});
  
  
  lab.textContent = yTickLabels[i];
});

const pointsG = document.getElementById('points');
function drawSeries(points, color, seriesName) {
  points.forEach(p => {
    const el = shape(pointsG, 'circle', {cx: xScale(p[0]), cy: yScale(p[1]), r: 11.2, fill: color});
    
    
  });
}
drawSeries(purplePoints, '#bb00bb', 'purple');
drawSeries(redPoints, '#ff0000', 'red');
drawSeries(greenPoints, '#007a00', 'green');
drawSeries(bluePoints, '#0000ff', 'blue');
</script>
</body>
</html>
